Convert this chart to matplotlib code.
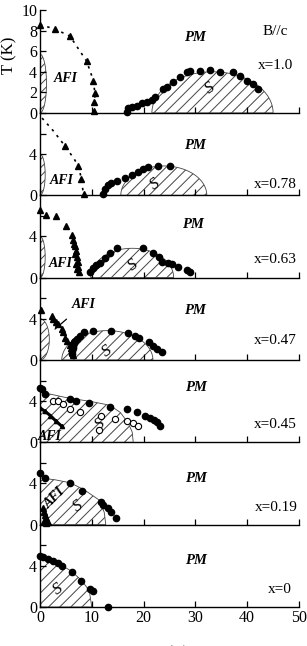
import numpy as np
import matplotlib.pyplot as plt
from matplotlib.patches import Polygon

plt.rcParams['font.family'] = ['Liberation Serif', 'DejaVu Serif']
plt.rcParams['hatch.linewidth'] = 0.7
plt.rcParams['hatch.color'] = '#222222'

# panel labels (top to bottom)
doping = ['x=1.0', 'x=0.78', 'x=0.63', 'x=0.47', 'x=0.45', 'x=0.19', 'x=0']

# ---- x=1.0 ----
h_dot_10 = [16.7, 16.9, 17.7, 18.7, 19.6, 20.6, 21.6, 22.2, 23.8, 24.5, 25.7, 27.0,
            28.3, 29.0, 30.9, 32.9, 34.7, 37.3, 38.6, 39.9, 41.2, 42.1]
t_dot_10 = [0.13, 0.45, 0.6, 0.7, 0.93, 1.09, 1.3, 1.57, 2.3, 2.5, 3.0, 3.48,
            3.95, 4.1, 4.1, 4.17, 4.0, 4.0, 3.57, 3.15, 2.84, 2.36]
h_tri_10 = [0.0, 2.9, 5.8, 9.0, 10.3, 10.6, 10.4, 10.4]
t_tri_10 = [8.57, 8.15, 7.45, 5.03, 3.15, 1.9, 1.1, 0.2]
h_afm_line_10 = [0.0, 2.9, 5.8, 9.0, 10.3, 10.6, 10.5]
t_afm_line_10 = [8.57, 8.15, 7.45, 5.03, 3.15, 1.9, 0.0]
dome_10 = (33.3, 11.7, 4.0)      # centre, half width, height
afi_10 = (1.25, 2.85)            # half width, half height

# ---- x=0.78 ----
h_dot_78 = [12.2, 12.5, 13.2, 13.8, 14.8, 16.4, 17.7, 19.0, 19.9, 20.9, 22.8, 25.1]
t_dot_78 = [0.1, 0.6, 0.98, 1.17, 1.4, 1.66, 1.95, 2.27, 2.54, 2.7, 2.86, 2.86]
h_tri_78 = [4.8, 7.4, 8.0, 8.4]
t_tri_78 = [4.8, 2.86, 1.6, 0.1]
h_afm_line_78 = [0.4, 2.5, 4.8, 6.5, 7.4, 8.0, 8.4]
t_afm_line_78 = [7.5, 6.3, 4.8, 3.6, 2.86, 1.6, 0.0]
dome_78 = (23.9, 8.3, 2.85)
afi_78 = (1.0, 2.0)

# ---- x=0.63 ----
h_dot_63 = [9.65, 10.3, 10.9, 11.6, 12.5, 13.5, 14.9, 19.8, 21.8, 23.0, 23.6, 24.8,
            25.5, 26.7, 28.3, 29.0]
t_dot_63 = [0.59, 0.92, 1.24, 1.46, 1.89, 2.38, 2.87, 2.87, 2.44, 1.99, 1.56, 1.4,
            1.36, 1.07, 0.75, 0.59]
h_tri_63 = [0.0, 1.2, 3.1, 5.0, 6.1, 6.4, 6.8, 6.9, 7.1, 7.3, 7.4, 7.5, 6.6, 6.8, 7.0, 7.1]
t_tri_63 = [6.6, 6.1, 6.0, 5.04, 4.17, 3.68, 3.03, 2.54, 2.05, 1.56, 1.07, 0.59, 3.3, 2.3, 1.3, 0.8]
dome_63 = (17.8, 8.0, 2.85)
afi_63 = (1.0, 2.0)

# ---- x=0.47 ----
h_dot_47 = [6.1, 6.2, 6.3, 6.4, 6.5, 6.6, 6.8, 7.1, 7.7, 8.4, 10.3, 13.8, 17.0, 18.3,
            19.2, 21.1, 21.9, 22.5, 23.5]
t_dot_47 = [0.6, 0.9, 1.2, 1.4, 1.6, 1.75, 1.85, 2.0, 2.34, 2.67, 2.83, 2.83, 2.66, 2.34,
            2.09, 1.7, 1.37, 1.11, 0.78]
h_tri_47 = [0.2, 2.3, 2.6, 3.0, 3.5, 4.2, 4.5, 4.8, 5.3, 5.7, 5.9, 6.1, 6.4]
t_tri_47 = [4.9, 4.3, 3.97, 3.7, 3.5, 3.0, 2.67, 2.18, 1.86, 1.5, 1.2, 0.9, 0.5]
dome_47 = (13.0, 8.8, 2.85)
afi_47 = (1.8, 2.0)

# ---- x=0.45 ----
h_dot_45 = [0.0, 0.3, 1.0, 5.7, 6.9, 9.5, 13.5, 16.7, 18.7, 20.3, 21.2, 22.0, 22.5, 23.2]
t_dot_45 = [5.3, 5.2, 4.65, 4.23, 4.0, 3.84, 3.45, 3.19, 2.93, 2.6, 2.38, 2.15, 1.95, 1.63]
h_open_45 = [2.6, 3.5, 4.5, 5.7, 7.7, 11.7, 14.5, 11.3, 16.7, 17.9, 19.0]
t_open_45 = [4.0, 4.0, 3.68, 3.2, 2.93, 2.6, 2.28, 1.24, 2.05, 1.89, 1.63]
h_afi_45 = [0.0, 1.0, 2.0, 3.0, 4.2]
t_afi_45 = [3.35, 3.0, 2.6, 2.1, 1.56]
h_sc_45 = [0.0, 5.0, 10.0, 13.5, 15.5, 17.0, 17.8, 18.0]
t_sc_45 = [4.9, 4.35, 3.95, 3.6, 2.9, 1.9, 1.0, 0.0]

# ---- x=0.19 ----
h_dot_19 = [0.0, 1.0, 5.7, 8.2, 11.7, 12.1, 13.2, 13.8, 14.7]
t_dot_19 = [5.04, 4.55, 4.07, 3.25, 2.18, 1.95, 1.63, 1.2, 0.65]
h_tri_19 = [0.5, 0.8, 1.0, 1.2, 1.5, 0.7, 1.1]
t_tri_19 = [1.6, 1.2, 0.9, 0.6, 0.3, 0.4, 0.2]
h_sc_19 = [0.0, 3.0, 5.8, 8.5, 11.4, 12.4, 12.7]
t_sc_19 = [4.55, 4.35, 4.07, 3.4, 2.4, 1.2, 0.0]

# ---- x=0 ----
h_dot_0 = [0.0, 0.6, 1.6, 2.6, 3.5, 4.2, 6.1, 8.0, 9.65, 10.2, 13.2]
t_dot_0 = [4.97, 4.85, 4.65, 4.5, 4.3, 4.0, 3.44, 2.56, 1.73, 1.59, 0.03]
h_sc_0 = [0.0, 2.0, 4.0, 6.0, 8.0, 9.5, 10.0]
t_sc_0 = [4.9, 4.6, 4.1, 3.5, 2.6, 1.6, 0.0]

# label positions (H, T)
pm_pos = [(29.9, 7.3), (29.9, 4.8), (29.6, 5.2), (29.9, 4.8), (30.2, 5.3), (30.2, 4.46), (30.2, 4.5)]
s_pos = [(32.8, 2.4), (22.2, 1.07), (17.9, 1.24), (12.9, 0.88), (11.6, 1.7), (7.4, 1.8), (3.5, 1.73)]
x_pos = [(45.5, 4.6), (45.5, 1.07), (45.4, 1.8), (45.4, 1.85), (45.4, 1.7), (45.7, 1.63), (46.3, 1.66)]
afi_pos = [(5.0, 3.3), (4.2, 1.4), (3.9, 1.4), (8.4, 5.4), (1.9, 0.6), (2.9, 2.6), None]


def hatch_poly(ax, hs, ts):
    pts = list(zip(hs, ts)) + [(hs[-1], 0), (hs[0], 0)]
    ax.add_patch(Polygon(pts, closed=True, facecolor='none', edgecolor='#444444',
                         hatch='///', lw=0.6))


def dome(ax, c, hw, h):
    a = np.linspace(0, np.pi, 80)
    hatch_poly(ax, c + hw * np.cos(a), h * np.sin(a))


def afi_lobe(ax, hw, hh):
    a = np.linspace(-np.pi / 2, np.pi / 2, 60)
    hs = hw * np.cos(a)
    ts = hh + hh * np.sin(a)
    ax.add_patch(Polygon(list(zip(hs, ts)), closed=True, facecolor='none',
                         edgecolor='#444444', hatch='////', lw=0.6))


fig = plt.figure(figsize=(3.07, 6.46), dpi=100)
gs = fig.add_gridspec(7, 1, height_ratios=[10, 8, 8, 8, 8, 8, 8], hspace=0,
                      left=40 / 307, right=299 / 307, top=1 - 10 / 646, bottom=1 - 607 / 646)
axes = [fig.add_subplot(gs[i]) for i in range(7)]

dot_kw = dict(ls='none', marker='o', ms=4.5, color='black', clip_on=False, zorder=5)
tri_kw = dict(ls='none', marker='^', ms=4, color='black', clip_on=False, zorder=5)

for i, ax in enumerate(axes):
    ax.set_xlim(0, 50)
    ax.set_ylim(0, 10 if i == 0 else 8)
    ax.spines['top'].set_visible(False)
    ax.spines['right'].set_visible(False)
    ax.spines['left'].set_linewidth(1.0)
    ax.spines['bottom'].set_linewidth(1.0)
    ax.set_xticks([0, 10, 20, 30, 40, 50])
    ax.tick_params(direction='in', length=4.5, width=0.9, labelsize=11.5, pad=2)
    if i == 0:
        ax.set_yticks([0, 2, 4, 6, 8, 10])
    else:
        ax.set_yticks([0, 4, 6])
        ax.set_yticklabels(['0', '4', ''])
    if i < 6:
        ax.tick_params(labelbottom=False)
    ax.patch.set_alpha(0)

    ax.text(*pm_pos[i], 'PM', fontsize=10.5, fontweight='bold', fontstyle='italic',
            ha='center', va='center')
    ax.text(*s_pos[i], 'S', fontsize=12, fontstyle='italic', rotation=35,
            ha='center', va='center')
    ax.text(*x_pos[i], doping[i], fontsize=11, ha='center', va='center')
    if afi_pos[i] is not None and i != 3:
        ax.text(*afi_pos[i], 'AFI', fontsize=10, fontweight='bold', fontstyle='italic',
                ha='center', va='center', rotation=45 if i == 5 else 0)

ax = axes[0]
dome(ax, *dome_10)
afi_lobe(ax, *afi_10)
ax.plot(h_afm_line_10, t_afm_line_10, ls=(0, (1.5, 3)), color='black', lw=1.2)
ax.plot(h_tri_10, t_tri_10, **tri_kw)
ax.plot(h_dot_10, t_dot_10, **dot_kw)
ax.text(45.4, 7.9, 'B//c', fontsize=11, ha='center', va='center')

ax = axes[1]
dome(ax, *dome_78)
afi_lobe(ax, *afi_78)
ax.plot(h_afm_line_78, t_afm_line_78, ls=(0, (1.5, 3)), color='black', lw=1.2)
ax.plot(h_tri_78, t_tri_78, **tri_kw)
ax.plot(h_dot_78, t_dot_78, **dot_kw)

ax = axes[2]
dome(ax, *dome_63)
afi_lobe(ax, *afi_63)
ax.plot(h_tri_63, t_tri_63, **tri_kw)
ax.plot(h_dot_63, t_dot_63, **dot_kw)

ax = axes[3]
dome(ax, *dome_47)
afi_lobe(ax, *afi_47)
ax.plot(h_tri_47, t_tri_47, **tri_kw)
ax.plot(h_dot_47, t_dot_47, **dot_kw)
ax.annotate('AFI', xy=(2.9, 3.0), xytext=afi_pos[3], fontsize=10, fontweight='bold',
            fontstyle='italic', ha='center', va='center',
            arrowprops=dict(arrowstyle='-', color='black', lw=0.9, shrinkA=6, shrinkB=0))

ax = axes[4]
hatch_poly(ax, h_sc_45, t_sc_45)
ax.plot(h_afi_45, t_afi_45, color='black', lw=2.2, marker='^', ms=3)
ax.plot(h_dot_45, t_dot_45, **dot_kw)
ax.plot(h_open_45, t_open_45, ls='none', marker='o', ms=4.5, mfc='white', mec='black',
        mew=0.8, zorder=5)

ax = axes[5]
hatch_poly(ax, h_sc_19, t_sc_19)
ax.plot(h_tri_19, t_tri_19, **tri_kw)
ax.plot(h_dot_19, t_dot_19, **dot_kw)

ax = axes[6]
hatch_poly(ax, h_sc_0, t_sc_0)
ax.plot(h_dot_0, t_dot_0, **dot_kw)
ax.set_xlabel('H (T)', fontsize=12, labelpad=14)

fig.text(0.03, 1 - 55 / 646, 'T (K)', rotation=90, fontsize=12, ha='center', va='center')

fig.savefig('out.png', dpi=100)
